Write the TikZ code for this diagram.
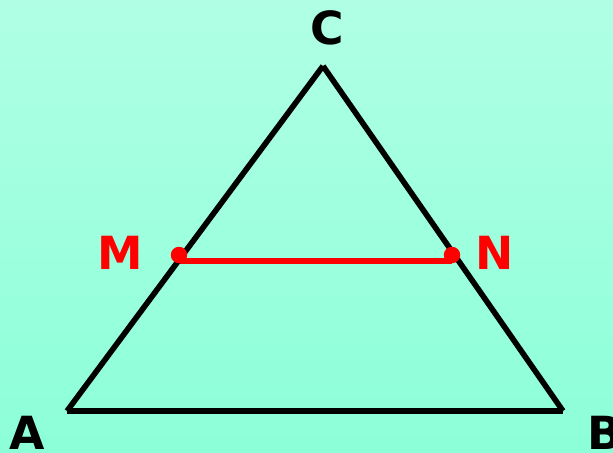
\documentclass[tikz,border=0pt]{standalone}
\usepackage{fontspec}
\setmainfont{DejaVu Sans}
\usetikzlibrary{positioning}

\begin{document}
\begin{tikzpicture}[x=0.02cm, y=-0.02cm,
  side/.style={line width=3.2pt, black},
  mid/.style={line width=3.3pt, red},
  lab/.style={inner sep=0pt, font=\fontsize{26}{30}\selectfont\bfseries},
  dot/.style={circle, fill=red, inner sep=0pt, minimum size=0.33cm}]
% background
\shade[top color={rgb,255:red,176;green,255;blue,228},
       bottom color={rgb,255:red,140;green,255;blue,216}]
  (0,0) rectangle (613,453);
\useasboundingbox (0,0) rectangle (613,453);
% triangle
\coordinate (A) at (67,411);
\coordinate (B) at (563,411);
\coordinate (C) at (323,66);
\draw[side] (A) -- (C);
\draw[side] (C) -- (B);
\draw[side] (A) -- (B);
% midline
\coordinate (M) at (180,261);
\coordinate (N) at (452,261);
\draw[mid] (M) -- (N);
\node[dot] (dM) at (179,255) {};
\node[dot] (dN) at (452,255) {};
% labels
\node[lab] (lC) at (327,28) {C};
\node[lab] (lA) at (27,433) {A};
\node[lab] (lB) at (605,433) {B};
\node[lab, text=red] (lM) at (120,253) {M};
\node[lab, text=red] (lN) at (495,253) {N};
\end{tikzpicture}
\end{document}
